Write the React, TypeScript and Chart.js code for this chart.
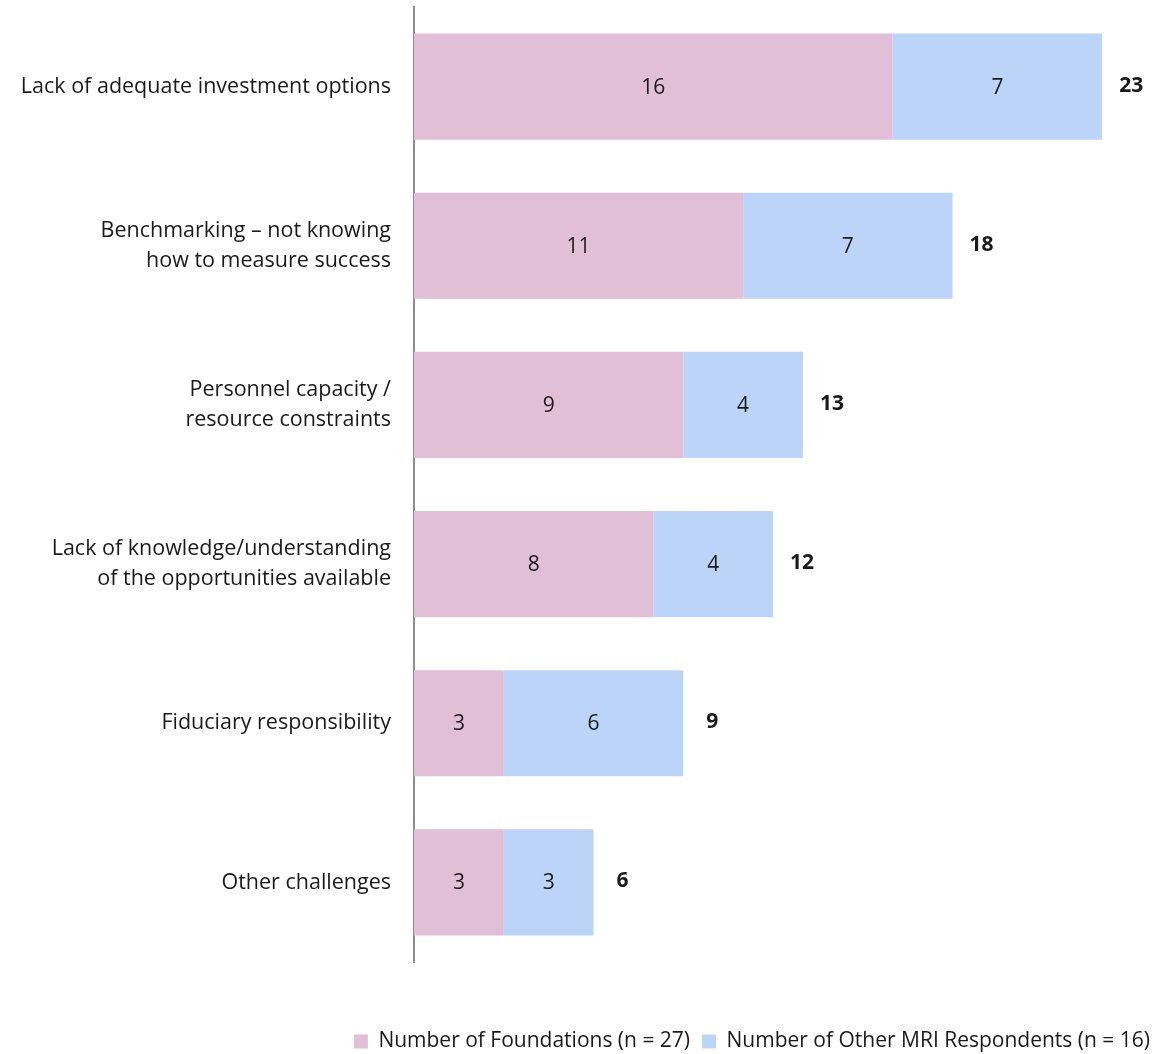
import React, { useEffect, useRef } from "react";
import { Chart, registerables } from "chart.js";

Chart.register(...registerables);

const categories: string[][] = [
  ["Lack of adequate investment options"],
  ["Benchmarking – not knowing", "how to measure success"],
  ["Personnel capacity /", "resource constraints"],
  ["Lack of knowledge/understanding", "of the opportunities available"],
  ["Fiduciary responsibility"],
  ["Other challenges"],
];
const foundations: number[] = [16, 11, 9, 8, 3, 3];
const otherMRI: number[] = [7, 7, 4, 4, 6, 3];
const seriesNames: string[] = [
  "Number of Foundations (n = 27)",
  "Number of Other MRI Respondents (n = 16)",
];
const totals: number[] = foundations.map((v, i) => v + otherMRI[i]);

const FONT = "'Open Sans', 'Noto Sans', sans-serif";
const PINK = "#E1BFD7";
const BLUE = "#BCD4F7";

const labelPlugin = {
  id: "barLabels",
  afterDatasetsDraw(chart: any) {
    const ctx = chart.ctx;
    ctx.save();
    ctx.textBaseline = "middle";
    ctx.textAlign = "center";
    ctx.fillStyle = "#1a1a1a";
    ctx.font = `21px ${FONT}`;
    chart.data.datasets.forEach((ds: any, di: number) => {
      const meta = chart.getDatasetMeta(di);
      meta.data.forEach((bar: any, i: number) => {
        const cx = (bar.x + bar.base) / 2;
        ctx.fillText(String(ds.data[i]), cx, bar.y + 1);
      });
    });
    const last = chart.getDatasetMeta(chart.data.datasets.length - 1);
    ctx.font = `bold 21px ${FONT}`;
    last.data.forEach((bar: any, i: number) => {
      ctx.fillText(String(totals[i]), bar.x + 29, bar.y - 1);
    });
    ctx.restore();
  },
};

export default function App() {
  const ref = useRef<HTMLCanvasElement | null>(null);
  useEffect(() => {
    document.body.style.margin = "0";
    document.documentElement.style.overflow = "hidden";
    document.body.style.overflow = "hidden";
    const chart = new Chart(ref.current as HTMLCanvasElement, {
      type: "bar",
      data: {
        labels: categories,
        datasets: [
          { label: seriesNames[0], data: foundations, backgroundColor: PINK, categoryPercentage: 1, barPercentage: 0.667 },
          { label: seriesNames[1], data: otherMRI, backgroundColor: BLUE, categoryPercentage: 1, barPercentage: 0.667 },
        ],
      },
      options: {
        indexAxis: "y",
        animation: false,
        responsive: false,
        devicePixelRatio: 1,
        layout: { padding: { top: 7, left: 0, right: 0, bottom: 0 } },
        plugins: {
          legend: {
            position: "bottom",
            align: "end",
            labels: {
              boxWidth: 14,
              boxHeight: 14,
              padding: 12,
              color: "#1a1a1a",
              font: { family: FONT, size: 21 },
            },
          },
          tooltip: { enabled: false },
        },
        scales: {
          x: {
            stacked: true,
            min: 0,
            max: 25,
            display: true,
            grid: { display: false, drawTicks: false },
            border: { display: false },
            ticks: { display: false },
            afterFit: (s: any) => { s.height = 57; },
          },
          y: {
            stacked: true,
            grid: { display: false, drawTicks: false },
            border: { display: true, color: "#8c8c8c", width: 2 },
            ticks: {
              padding: 23,
              color: "#1a1a1a",
              font: { family: FONT, size: 21.5, lineHeight: 1.4 },
            },
            afterFit: (s: any) => {
              s.width = 414;
              s.paddingTop = 0;
              s.paddingBottom = 0;
            },
          },
        },
      },
      plugins: [labelPlugin],
    });
    return () => chart.destroy();
  }, []);
  return (
    <div style={{ width: 1162, height: 1062 }}>
      <canvas ref={ref} width={1162} height={1062} style={{ display: "block", width: 1162, height: 1062 }} />
    </div>
  );
}
